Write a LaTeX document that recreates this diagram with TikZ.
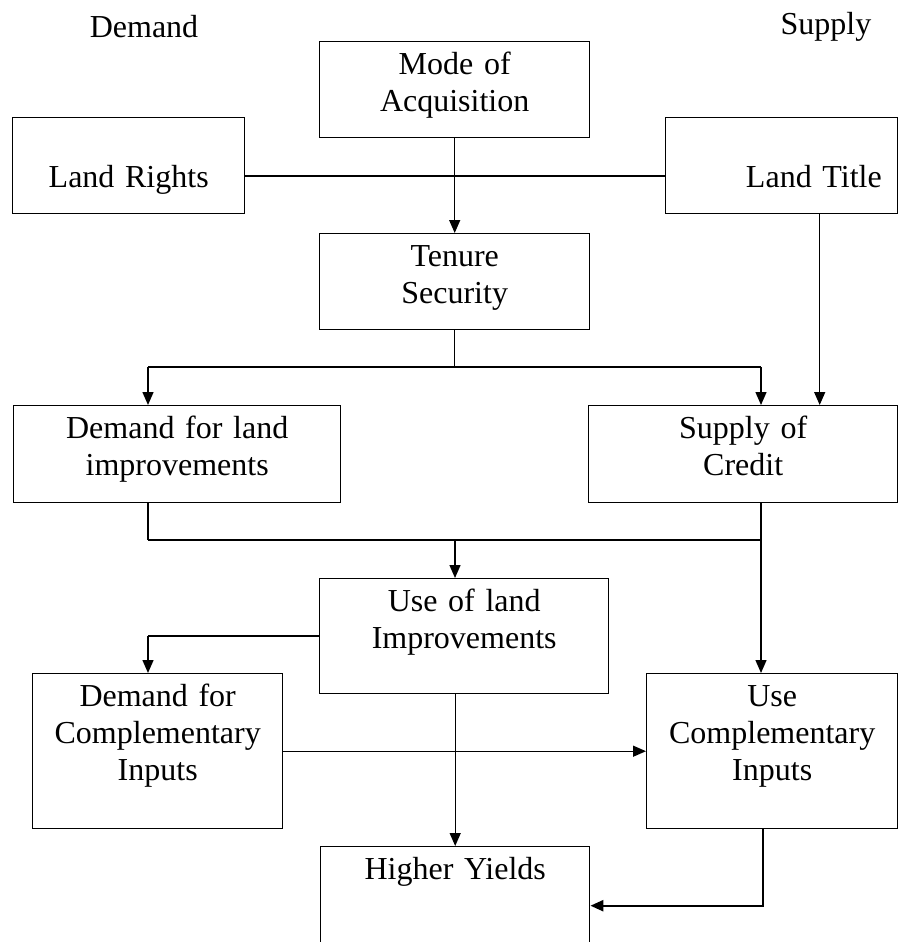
\documentclass[tikz,border=0pt]{standalone}
\usepackage{fontspec}
\setmainfont{Liberation Serif}
\usetikzlibrary{arrows.meta}

\def\firstline{33pt}
\tikzstyle{block} = [rectangle,
anchor=north west,
draw=black,
line width=1.4pt,
inner sep=0pt,
align=center,
text height=\firstline,
font=\fontsize{32}{37}\selectfont]
\tikzstyle{link} = [line width=1.4pt]
\tikzstyle{bus} = [line width=2.4pt]
\tikzstyle{arrow} = [line width=1.4pt, -{Triangle[length=13pt,width=11pt]}]

\begin{document}
\begin{tikzpicture}[x=1pt,y=-1pt]
    \clip (0,0) rectangle (906,942);
    \node (demand) [font=\fontsize{32}{37}\selectfont] at (144,27) {Demand};
    \node (supply) [font=\fontsize{32}{37}\selectfont] at (826,27) {Supply};
    %%%%%%%%%%%%%%%%%%%%%%%%%%%%%%%%%%%%%%%%
    % Land
    %%%%%%%%%%%%%%%%%%%%%%%%%%%%%%%%%%%%%%%%
    \node (mode) [block, text width=270pt, text depth=63pt] at (319,41) {Mode of\\Acquisition};
    \node (rights) [block, text width=232pt, text height=70pt, text depth=26pt] at (12,117) {Land Rights};
    \node (title) [block, text width=200pt, inner xsep=16pt, align=right, text height=70pt, text depth=26pt] at (665,117) {Land Title};
    \node (tenure) [block, text width=270pt, text depth=63pt] at (319,233) {Tenure\\Security};
    %%%%%%%%%%%%%%%%%%%%%%%%%%%%%%%%%%%%%%%%
    % Demand and credit
    %%%%%%%%%%%%%%%%%%%%%%%%%%%%%%%%%%%%%%%%
    \node (dland) [block, text width=327pt, text depth=64pt] at (13,405) {Demand for land\\improvements};
    \node (credit) [block, text width=309pt, text depth=64pt] at (588,405) {Supply of\\Credit};
    \node (useland) [block, text width=289pt, text depth=82pt] at (319,578) {Use of land\\Improvements};
    %%%%%%%%%%%%%%%%%%%%%%%%%%%%%%%%%%%%%%%%
    % Inputs and yields
    %%%%%%%%%%%%%%%%%%%%%%%%%%%%%%%%%%%%%%%%
    \node (dcomp) [block, text width=250pt, text depth=122pt] at (32,673) {Demand for\\Complementary\\Inputs};
    \node (usecomp) [block, text width=251pt, text depth=122pt] at (646,673) {Use\\Complementary\\Inputs};
    \node (yields) [block, text width=269pt, text depth=85pt] at (320,846) {Higher Yields};
    \coordinate (split1l) at (148,367);
    \coordinate (split1r) at (761,367);
    \coordinate (split2l) at (148,540);
    \coordinate (split2m) at (455,540);
    \coordinate (split2r) at (761,540);
    \coordinate (turn) at (148,636);
    \draw[arrow] (mode) -- (tenure);
    \draw[bus] ([yshift=-10pt]rights.east) -- ([yshift=-10pt]title.west);
    \draw[link] (tenure.south) -- (tenure.south |- split1l);
    \draw[bus] (split1l) -- (split1r);
    \draw[arrow] (split1l) -- (split1l |- dland.north);
    \draw[arrow] (split1r) -- (split1r |- credit.north);
    \draw[arrow] ([xshift=38pt]title.south) -- ([xshift=38pt]title.south |- credit.north);
    \draw[link] (split2l |- dland.south) -- (split2l);
    \draw[bus] (split2l) -- (split2r);
    \draw[arrow] (split2m) -- (split2m |- useland.north);
    \draw[arrow] (split2r |- credit.south) -- (split2r |- usecomp.north);
    \draw[bus] (useland.west |- turn) -- (turn);
    \draw[arrow] (turn) -- (turn |- dcomp.north);
    \draw[arrow] (dcomp.east) -- (dcomp.east -| usecomp.west);
    \draw[arrow] (yields.north |- useland.south) -- (yields.north);
    \draw[bus, -{Triangle[length=13pt,width=11pt]}] ([xshift=-9pt]usecomp.south) |- (yields.east);
\end{tikzpicture}
\end{document}
